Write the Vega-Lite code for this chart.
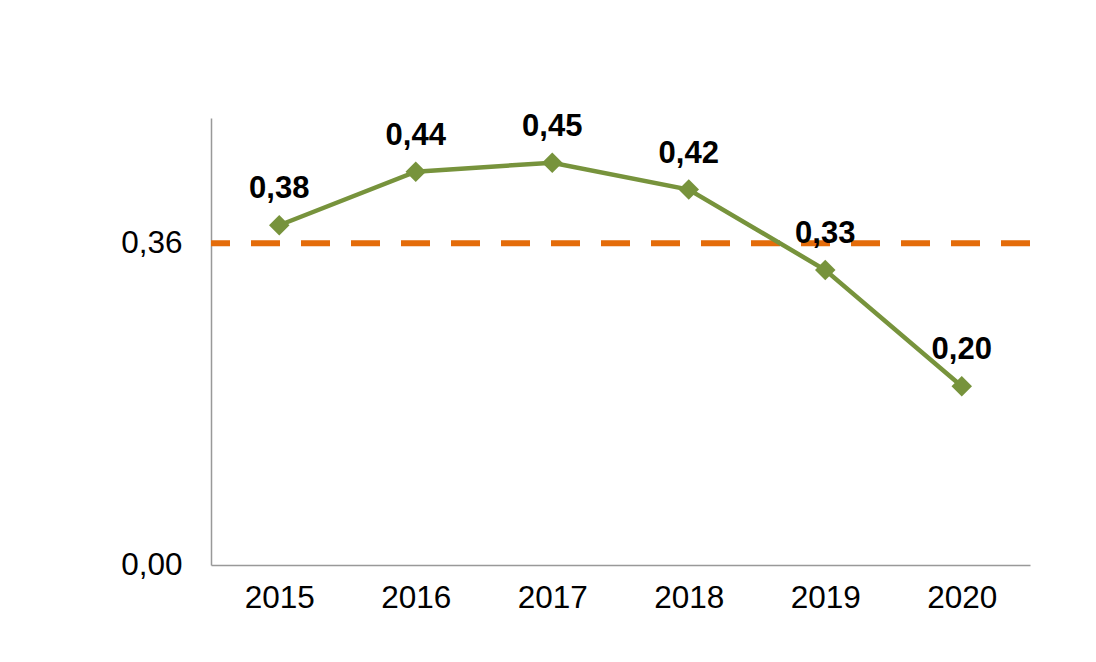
{
  "$schema": "https://vega.github.io/schema/vega-lite/v6.json",
  "width": 819,
  "height": 447,
  "autosize": {"type": "none"},
  "padding": {"left": 211, "top": 118, "right": 66, "bottom": 97},
  "background": "white",
  "config": {
    "view": {"stroke": null},
    "locale": {"number": {"decimal": ",", "thousands": ".", "grouping": [3], "currency": ["", " €"]}},
    "font": "Liberation Sans"
  },
  "data": {
    "values": [
      {"year": "2015", "value": 0.38, "ref": 0.36},
      {"year": "2016", "value": 0.44, "ref": 0.36},
      {"year": "2017", "value": 0.45, "ref": 0.36},
      {"year": "2018", "value": 0.42, "ref": 0.36},
      {"year": "2019", "value": 0.33, "ref": 0.36},
      {"year": "2020", "value": 0.20, "ref": 0.36}
    ]
  },
  "encoding": {
    "x": {
      "field": "year",
      "type": "ordinal",
      "scale": {"type": "point", "padding": 0.5},
      "axis": {
        "title": null,
        "labelAngle": 0,
        "labelFontSize": 31.5,
        "labelColor": "#000000",
        "labelFont": "Liberation Sans",
        "labelPadding": 17,
        "ticks": false,
        "domainColor": "#999999",
        "domainWidth": 1.5,
        "grid": false
      }
    }
  },
  "layer": [
    {
      "mark": {"type": "rule", "color": "#E46C0A", "strokeWidth": 6, "strokeDash": [29, 21]},
      "encoding": {
        "x": null,
        "y": {"field": "ref", "type": "quantitative", "aggregate": "mean"}
      }
    },
    {
      "mark": {"type": "line", "color": "#77933C", "strokeWidth": 4.5},
      "encoding": {
        "y": {
          "field": "value",
          "type": "quantitative",
          "scale": {"domain": [0, 0.5], "nice": false},
          "axis": {
            "title": null,
            "values": [0, 0.36],
            "format": ".2f",
            "labelFontSize": 31.5,
            "labelColor": "#000000",
            "labelFont": "Liberation Sans",
            "labelPadding": 29,
            "ticks": false,
            "grid": false,
            "domainColor": "#999999",
            "domainWidth": 1.5
          }
        }
      }
    },
    {
      "mark": {"type": "point", "shape": "diamond", "filled": true, "color": "#77933C", "size": 420, "opacity": 1},
      "encoding": {
        "y": {"field": "value", "type": "quantitative"}
      }
    },
    {
      "mark": {"type": "text", "fontSize": 31, "fontWeight": "bold", "color": "#000000", "baseline": "alphabetic", "dy": -27, "font": "Liberation Sans"},
      "encoding": {
        "y": {"field": "value", "type": "quantitative"},
        "text": {"field": "value", "type": "quantitative", "format": ".2f"}
      }
    }
  ]
}
